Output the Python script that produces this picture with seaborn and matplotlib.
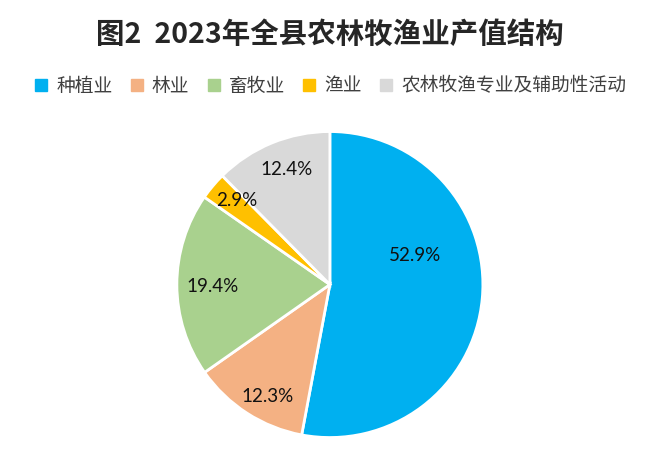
import matplotlib
matplotlib.use("Agg")
import matplotlib.pyplot as plt
from matplotlib.lines import Line2D
import seaborn as sns

# 2023 output value structure
categories = ["种植业", "林业", "畜牧业", "渔业", "农林牧渔专业及辅助性活动"]
shares = [52.9, 12.3, 19.4, 2.9, 12.4]
colors = ["#00B0F0", "#F4B183", "#A9D18E", "#FFC000", "#D9D9D9"]
title = "图2  2023年全县农林牧渔业产值结构"

# hand-placed label spots (pie radius = 1), like the original best-fit layout
label_pos = [(0.556, 0.193), (-0.41, -0.735), (-0.765, -0.016),
             (-0.61, 0.55), (-0.28, 0.75)]

sns.set_theme(style="white")
plt.rcParams["font.family"] = ["Noto Sans CJK SC", "DejaVu Sans"]

fig = plt.figure(figsize=(6.6, 4.63), dpi=100)
ax = fig.add_axes([0.268, 0.055, 306 / 660, 306 / 463])

wedges, texts = ax.pie(
    shares, colors=colors, startangle=90, counterclock=False,
    wedgeprops=dict(edgecolor="white", linewidth=2),
)
# the published shares sum to 99.9, so label with them directly
for v, (x, y) in zip(shares, label_pos):
    ax.text(x, y, f"{v:.1f}%", ha="center", va="center", fontsize=13.5,
            family=["Lato", "DejaVu Sans"], color="#111111")
ax.set_xlim(-1, 1)
ax.set_ylim(-1, 1)
ax.set_aspect("equal")
ax.axis("off")

fig.text(0.5, 0.924, title, ha="center", va="center", fontsize=20.5,
         fontweight="bold", family=["Noto Sans CJK SC", "DejaVu Serif"])

handles = [Line2D([], [], marker="s", linestyle="", markersize=8,
                  markerfacecolor=c, markeredgecolor=c) for c in colors]
fig.legend(handles, categories, loc="center", bbox_to_anchor=(0.5, 0.814),
           ncol=5, frameon=False, fontsize=13.5, handlelength=0.8,
           handletextpad=0.4, columnspacing=0.9, labelcolor="#404040")

fig.savefig("out.png", dpi=100)
